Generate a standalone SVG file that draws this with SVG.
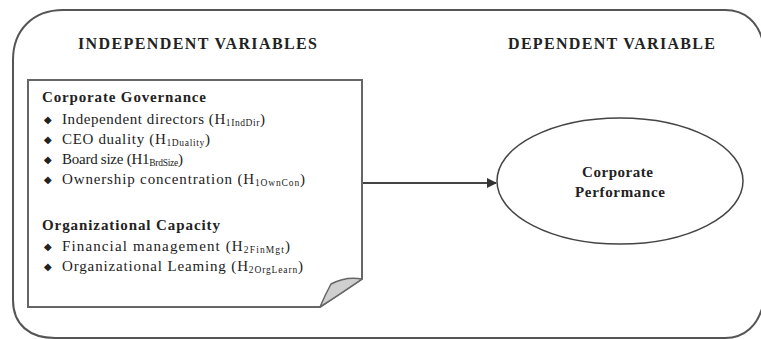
<svg xmlns="http://www.w3.org/2000/svg" width="761" height="339" viewBox="0 0 761 339">
<defs>
<style>
.frame{fill:#fff;stroke:#555;stroke-width:2}
.note{fill:#fff;stroke:#666;stroke-width:2}
.flap{fill:#cfcfcf;stroke:#666;stroke-width:1.5;stroke-linejoin:round}
.ell{fill:#fff;stroke:#444;stroke-width:1.5}
.conn{fill:none;stroke:#444;stroke-width:2}
.hd{font-family:"Liberation Serif",serif;font-weight:bold;font-size:16px;fill:#222}
.b{font-family:"Liberation Serif",serif;font-weight:bold;font-size:15px;fill:#222}
.t{font-family:"Liberation Serif",serif;font-size:15px;fill:#222}
.s{font-size:9.5px}
.bul{font-family:"DejaVu Sans",sans-serif;font-size:10px;fill:#222}
</style>
<marker id="arr" viewBox="0 0 10 10" refX="9" refY="5" markerWidth="5" markerHeight="5" orient="auto" markerUnits="strokeWidth">
<path d="M0,0 L10,5 L0,10 Z" fill="#333"/>
</marker>
</defs>
<rect width="761" height="339" fill="#fff"/>
<g id="frame">
<path class="frame" d="M63,10 L725,10 C745,10 758,22 763,42 L763,305 C758,325 745,338 725,338 L55,338 C30,338 13,325 13,300 L13,60 C13,30 33,10 63,10 Z"/>
<text class="hd" x="78" y="49" textLength="239" lengthAdjust="spacing">INDEPENDENT VARIABLES</text>
<text class="hd" x="508" y="49" textLength="207" lengthAdjust="spacing">DEPENDENT VARIABLE</text>
</g>
<g id="independent">
<path class="note" d="M28,80 H362 V279 Q343,292 320,307 H28 Z"/>
<path class="flap" d="M362,279 Q346,276 331,284 Q325,295 320,307 Q343,292 362,279 Z"/>
<text class="b" x="42" y="102" textLength="164" lengthAdjust="spacing">Corporate Governance</text>
<text class="bul" x="44" y="123">◆</text>
<text class="t" x="62" y="124" textLength="203" lengthAdjust="spacing">Independent directors (H<tspan class="s" dy="2">1IndDir</tspan><tspan dy="-2">)</tspan></text>
<text class="bul" x="44" y="143">◆</text>
<text class="t" x="62" y="144" textLength="148" lengthAdjust="spacing">CEO duality (H<tspan class="s" dy="2">1Duality</tspan><tspan dy="-2">)</tspan></text>
<text class="bul" x="44" y="163">◆</text>
<text class="t" x="62" y="164" textLength="121" lengthAdjust="spacing">Board size (H1<tspan class="s" dy="2">BrdSize</tspan><tspan dy="-2">)</tspan></text>
<text class="bul" x="44" y="183">◆</text>
<text class="t" x="62" y="184" textLength="243" lengthAdjust="spacing">Ownership concentration (H<tspan class="s" dy="2">1OwnCon</tspan><tspan dy="-2">)</tspan></text>
<text class="b" x="42" y="230" textLength="178" lengthAdjust="spacing">Organizational Capacity</text>
<text class="bul" x="44" y="250">◆</text>
<text class="t" x="62" y="251" textLength="228" lengthAdjust="spacing">Financial management (H<tspan class="s" dy="2">2FinMgt</tspan><tspan dy="-2">)</tspan></text>
<text class="bul" x="44" y="270">◆</text>
<text class="t" x="62" y="271" textLength="241" lengthAdjust="spacing">Organizational Leaming (H<tspan class="s" dy="2">2OrgLearn</tspan><tspan dy="-2">)</tspan></text>
</g>
<g id="dependent">
<ellipse class="ell" cx="620" cy="181" rx="123" ry="63"/>
<text class="b" x="582" y="177" textLength="71" lengthAdjust="spacing">Corporate</text>
<text class="b" x="575" y="197" textLength="90" lengthAdjust="spacing">Performance</text>
</g>
<g id="connectors">
<line class="conn" x1="363" y1="183" x2="496" y2="183" marker-end="url(#arr)"/>
</g>
</svg>
